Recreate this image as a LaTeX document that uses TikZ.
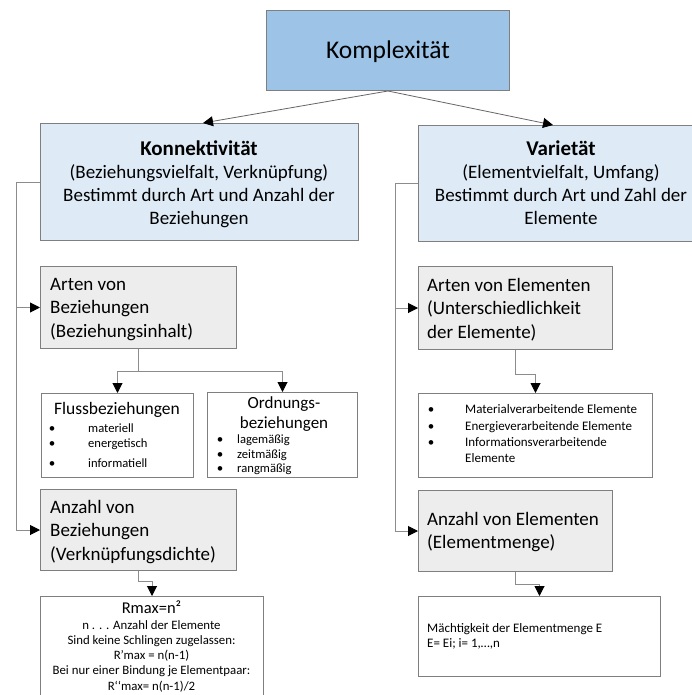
\documentclass[tikz,border=0pt]{standalone}
\usepackage{fontspec}
\setmainfont{Carlito}
\usetikzlibrary{arrows.meta}

\definecolor{kopfblau}{HTML}{9DC3E6}
\definecolor{hellblau}{HTML}{DEEBF7}
\definecolor{hellgrau}{HTML}{EDEDED}
\definecolor{rahmen}{HTML}{7F7F7F}
\definecolor{linie}{HTML}{8C8C8C}

\newcommand\setfs[2]{\fontsize{#1}{#2}\selectfont}
% fixed height of the first line, so that anchor=north gives a known baseline
\newcommand\zeilenstart{\rule{0pt}{1em}}

\begin{document}
\begin{tikzpicture}[x=1pt,y=-1pt,
  box/.style={draw=rahmen, line width=1pt, inner sep=0pt, anchor=north west},
  conn/.style={draw=linie, line width=1pt},
  topconn/.style={draw=rahmen!80!black, line width=0.8pt},
  tip/.style={-{Triangle[length=10pt,width=10pt,color=black]}},
  big/.style={font=\setfs{19}{23.5}, inner sep=0pt, anchor=north},
  bigl/.style={big, align=left, anchor=north west},
  small/.style={font=\setfs{13}{15}, inner sep=0pt, anchor=base west},
  tiny/.style={font=\setfs{12.6}{14}, inner sep=0pt, anchor=base west},
  dot/.style={font=\setfs{13}{15}, inner sep=0pt, anchor=base}
]
\useasboundingbox (0,0) rectangle (691,695);
\fill[white] (0,0) rectangle (691,695);

% ---------- boxes ----------
\node[box, fill=kopfblau, minimum width=243pt, minimum height=80pt] (komp) at (266,10) {};
\node[box, fill=hellblau, minimum width=318pt, minimum height=117pt] (kon) at (40,123) {};
\node[box, fill=hellblau, minimum width=286pt, minimum height=116pt] (var) at (418,125) {};

\node[box, fill=hellgrau, minimum width=196pt, minimum height=82pt] (artb) at (40,266) {};
\node[box, minimum width=152pt, minimum height=84pt] (fluss) at (41,393) {};
\node[box, minimum width=150pt, minimum height=85pt] (ord) at (207,392) {};
\node[box, fill=hellgrau, minimum width=196pt, minimum height=81pt] (anzb) at (40,489) {};
\node[box, minimum width=223pt, minimum height=110pt] (rmax) at (40,596) {};

\node[box, fill=hellgrau, minimum width=194pt, minimum height=83pt] (arte) at (418,266) {};
\node[box, minimum width=234pt, minimum height=84pt] (bul) at (418,393) {};
\node[box, fill=hellgrau, minimum width=194pt, minimum height=81pt] (anze) at (418,490) {};
\node[box, minimum width=242pt, minimum height=80pt] (mae) at (418,596) {};

% ---------- texts ----------
\node[font=\setfs{25.5}{30}, inner sep=0pt, anchor=base] at (388,59) {Komplexität};

\node[big, align=center, font=\setfs{19}{23}] at (199,136)
  {\zeilenstart{\setfs{21}{23}\bfseries Konnektivität}\\(Beziehungsvielfalt, Verknüpfung)\\Bestimmt durch Art und Anzahl der\\Beziehungen};
\node[big, align=center, font=\setfs{19}{23}] at (561,136)
  {\zeilenstart{\setfs{21}{23}\bfseries Varietät}\\(Elementvielfalt, Umfang)\\Bestimmt durch Art und Zahl der\\Elemente};

\node[bigl] at (50,271) {\zeilenstart Arten von\\Beziehungen\\(Beziehungsinhalt)};
\node[bigl] at (50,494) {\zeilenstart Anzahl von\\Beziehungen\\(Verknüpfungsdichte)};
\node[bigl] at (427,272) {\zeilenstart Arten von Elementen\\(Unterschiedlichkeit\\der Elemente)};
\node[bigl] at (427,506) {\zeilenstart Anzahl von Elementen\\(Elementmenge)};

% Flussbeziehungen
\node[font=\setfs{17.5}{21}, inner sep=0pt, anchor=base] at (117,414) {Flussbeziehungen};
\node[dot] at (52,432) {•};
\node[dot] at (52,447) {•};
\node[dot] at (52,467) {•};
\node[tiny] at (88,432) {materiell};
\node[tiny] at (88,447) {energetisch};
\node[tiny] at (88,467) {informatiell};

% Ordnungsbeziehungen
\node[font=\setfs{17}{20}, inner sep=0pt, anchor=base] at (284,408) {Ordnungs-};
\node[font=\setfs{17}{20}, inner sep=0pt, anchor=base] at (284,428) {beziehungen};
\node[dot] at (220,443) {•};
\node[dot] at (220,458) {•};
\node[dot] at (220,472) {•};
\node[tiny] at (237,443) {lagemäßig};
\node[tiny] at (237,458) {zeitmäßig};
\node[tiny] at (237,472) {rangmäßig};

% Elementarten
\node[dot] at (431,413) {•};
\node[dot] at (431,430) {•};
\node[dot] at (431,446) {•};
\node[small] at (465,413) {Materialverarbeitende Elemente};
\node[small] at (465,430) {Energieverarbeitende Elemente};
\node[small] at (465,446) {Informationsverarbeitende};
\node[small] at (465,462) {Elemente};

% Anzahl der Beziehungen
\node[font=\setfs{16.5}{20}, inner sep=0pt, anchor=base] at (151.5,613) {Rmax=n²};
\node[font=\setfs{12.8}{15}, inner sep=0pt, anchor=base] at (151.5,629) {n . . . Anzahl der Elemente};
\node[font=\setfs{12.8}{15}, inner sep=0pt, anchor=base] at (151.5,644) {Sind keine Schlingen zugelassen:};
\node[font=\setfs{12.8}{15}, inner sep=0pt, anchor=base] at (151.5,659) {R’max = n(n-1)};
\node[font=\setfs{12.8}{15}, inner sep=0pt, anchor=base] at (151.5,674) {Bei nur einer Bindung je Elementpaar:};
\node[font=\setfs{12.8}{15}, inner sep=0pt, anchor=base] at (151.5,690) {R‘‘max= n(n-1)/2};

% Anzahl der Elemente
\node[small] at (427,632) {Mächtigkeit der Elementmenge E};
\node[small] at (427,647) {E= Ei; i= 1,…,n};

% ---------- connectors ----------
\draw[topconn, tip] (komp.south) -- ([xshift=163pt]kon.north west);
\draw[topconn, tip] (komp.south) -- ([xshift=135pt]var.north west);

\draw[conn, tip] (kon.west) -- ++(-24,0) coordinate (kl) |- (anzb.west);
\draw[conn, tip] (kl |- artb.west) -- (artb.west);

\draw[conn, tip] (var.west) -- ++(-23,0) coordinate (kr) |- (anze.west);
\draw[conn, tip] (kr |- arte.west) -- (arte.west);

\draw[conn] (artb.south) -- ++(0,22) coordinate (ag);
\draw[conn, tip] (ag) -| (fluss.north);
\draw[conn, tip] (ag) -| (ord.north);

\draw[conn, tip] (anzb.south) -- ++(0,10) -| (rmax.north);
\draw[conn, tip] (arte.south) -- ++(0,24) -| (bul.north);
\draw[conn, tip] (anze.south) -- ++(0,12) -| (mae.north);
\end{tikzpicture}
\end{document}
